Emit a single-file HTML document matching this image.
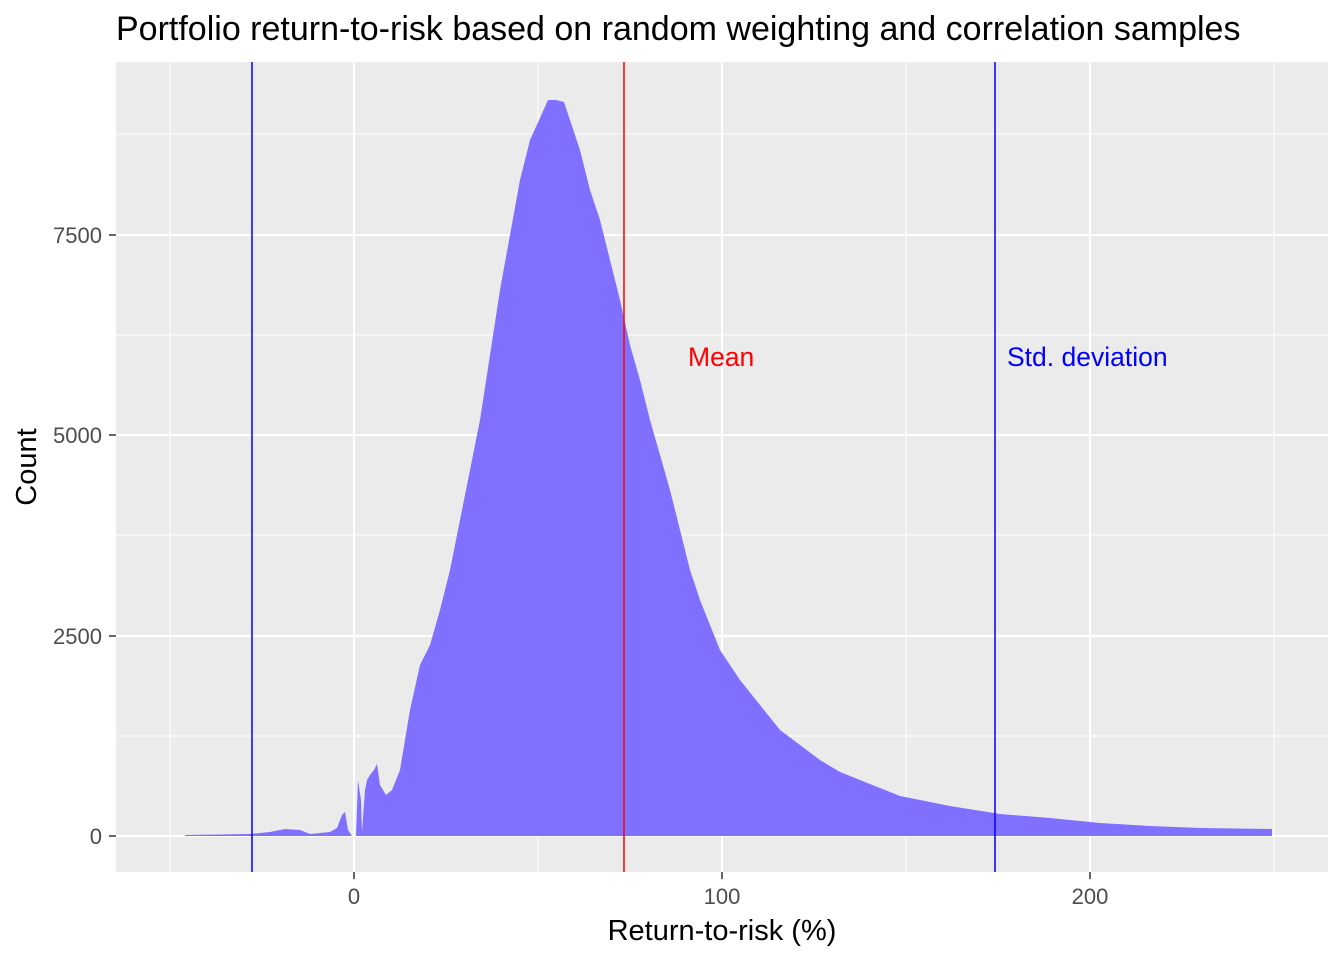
<!DOCTYPE html>
<html><head><meta charset="utf-8"><style>body{margin:0;background:#fff}svg{display:block;font-family:"Liberation Sans",Arial,sans-serif}</style></head>
<body>
<svg width="1344" height="960" viewBox="0 0 1344 960">
<rect width="1344" height="960" fill="#fff"/>
<rect x="116" y="62" width="1212" height="810" fill="#ebebeb"/>
<g stroke="#fff" stroke-width="1">
<line x1="116" x2="1328" y1="736" y2="736"/><line x1="116" x2="1328" y1="535" y2="535"/><line x1="116" x2="1328" y1="335" y2="335"/><line x1="116" x2="1328" y1="134" y2="134"/>
<line y1="62" y2="872" x1="170" x2="170"/><line y1="62" y2="872" x1="538" x2="538"/><line y1="62" y2="872" x1="906" x2="906"/><line y1="62" y2="872" x1="1274" x2="1274"/>
</g>
<g stroke="#fff" stroke-width="2">
<line x1="116" x2="1328" y1="836" y2="836"/><line x1="116" x2="1328" y1="636" y2="636"/><line x1="116" x2="1328" y1="435" y2="435"/><line x1="116" x2="1328" y1="235" y2="235"/>
<line y1="62" y2="872" x1="354" x2="354"/><line y1="62" y2="872" x1="722" x2="722"/><line y1="62" y2="872" x1="1090" x2="1090"/>
</g>
<polygon fill="#8070ff" points="185,836 185,835 250,834 270,832 285,829 300,830 310,834 330,832 337,828 342,815 345,812 348,830 352,836 356,836 358,780 361,800 362,832 365,790 367,780 370,775 374,770 377,764 380,785 386,795 392,790 400,770 410,710 420,665 430,645 440,610 450,570 460,520 470,470 480,420 490,355 500,290 510,235 520,180 530,140 540,118 548,100 556,100 564,102 570,120 580,150 590,190 600,220 610,260 620,300 630,345 640,380 650,420 660,455 670,490 680,530 690,570 700,600 710,625 720,650 740,680 760,705 780,730 800,745 820,760 840,772 860,780 880,788 900,796 950,806 1000,814 1050,818 1100,823 1150,826 1200,828 1272,829 1272,836"/>
<line x1="252" x2="252" y1="62" y2="872" stroke="#0000ff" stroke-width="1.5"/>
<line x1="995" x2="995" y1="62" y2="872" stroke="#0000ff" stroke-width="1.5"/>
<line x1="624" x2="624" y1="62" y2="872" stroke="#ff0000" stroke-width="1.5"/>
<text x="688" y="366" fill="#ff0000" font-size="26.5">Mean</text>
<text x="1007" y="366" fill="#0000ff" font-size="26.5">Std. deviation</text>
<g stroke="#333" stroke-width="1.5">
<line x1="109" x2="116" y1="836" y2="836"/><line x1="109" x2="116" y1="636" y2="636"/><line x1="109" x2="116" y1="435" y2="435"/><line x1="109" x2="116" y1="235" y2="235"/>
<line y1="872" y2="879" x1="354" x2="354"/><line y1="872" y2="879" x1="722" x2="722"/><line y1="872" y2="879" x1="1090" x2="1090"/>
</g>
<g fill="#4d4d4d" font-size="22" text-anchor="end">
<text x="102" y="844">0</text><text x="102" y="644">2500</text><text x="102" y="443">5000</text><text x="102" y="243">7500</text>
</g>
<g fill="#4d4d4d" font-size="22" text-anchor="middle">
<text x="354" y="904">0</text><text x="722" y="904">100</text><text x="1090" y="904">200</text>
</g>
<text x="722" y="940" font-size="29" text-anchor="middle">Return-to-risk (%)</text>
<text transform="translate(36,467) rotate(-90)" font-size="29" text-anchor="middle">Count</text>
<text x="116" y="40" font-size="34">Portfolio return-to-risk based on random weighting and correlation samples</text>
</svg>
</body></html>
